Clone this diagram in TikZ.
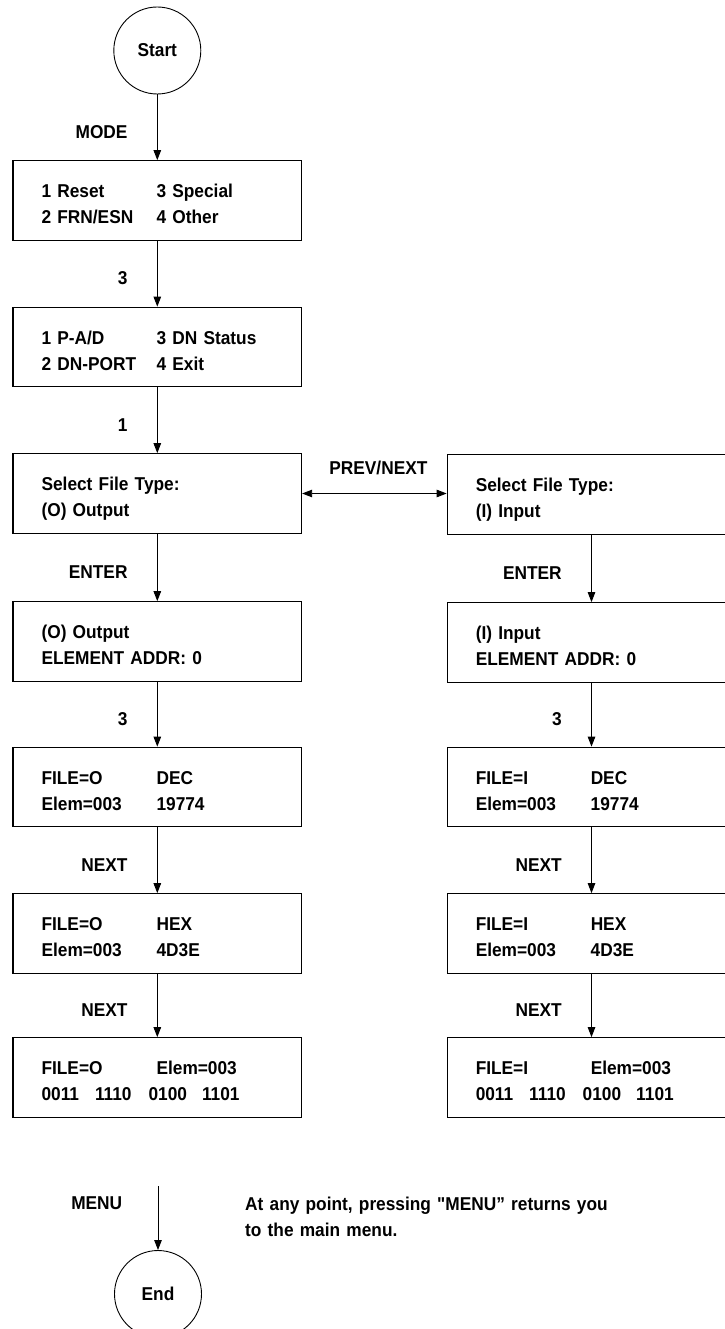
\documentclass[tikz,border=0pt]{standalone}
\usepackage{fontspec}
\setmainfont[FakeStretch=0.93,Ligatures=TeXOff]{Liberation Sans}
\usetikzlibrary{arrows.meta}
% two text lines of a screen box
\newcommand{\scrn}[2]{\rule{0pt}{25.4pt}#1\\#2\rule[-5pt]{0pt}{5pt}}
\newcommand{\col}[1]{\makebox[115pt][l]{#1}}
\newcommand{\nib}[1]{\makebox[53.5pt][l]{#1}}

\begin{document}
\begin{tikzpicture}[x=1pt,y=-1pt,font=\bfseries\fontsize{18.6}{26}\selectfont,
  screen/.style={draw,line width=1.2pt,rectangle,text width=231.5pt,inner xsep=28.5pt,minimum height=79.5pt,align=left},
  term/.style={draw,line width=.9pt,circle,minimum size=87pt,inner sep=0pt},
  flow/.style={line width=.9pt,-{Triangle[length=10pt,width=7.5pt]}},
  flowboth/.style={line width=.9pt,{Triangle[length=10pt,width=7.5pt]}-{Triangle[length=10pt,width=7.5pt]}},
  keylabel/.style={pos=.57,left=26pt}]
\useasboundingbox (0,0) rectangle (724,1329);

% output column
\node[term] (start) at (157.3,50.5) {Start};
\node[screen] (b1) at (157.3,200.5) {\scrn{\col{1 Reset}3 Special}{\col{2 FRN/ESN}4 Other}};
\node[screen] (b2) at (157.3,347) {\scrn{\col{1 P-A/D}3 DN Status}{\col{2 DN-PORT}4 Exit}};
\node[screen] (b3) at (157.3,493.5) {\scrn{Select File Type:}{(O) Output}};
\node[screen] (b4) at (157.3,641.5) {\scrn{(O) Output}{ELEMENT ADDR: 0}};
\node[screen] (b5) at (157.3,787) {\scrn{\col{FILE=O}DEC}{\col{Elem=003}19774}};
\node[screen] (b6) at (157.3,933.5) {\scrn{\col{FILE=O}HEX}{\col{Elem=003}4D3E}};
\node[screen] (b7) at (157.3,1077.5) {\scrn{\col{FILE=O}Elem=003}{\nib{0011}\nib{1110}\nib{0100}1101}};

% input column
\node[screen] (r3) at (591.5,494.5) {\scrn{Select File Type:}{(I) Input}};
\node[screen] (r4) at (591.5,642.5) {\scrn{(I) Input}{ELEMENT ADDR: 0}};
\node[screen] (r5) at (591.5,787) {\scrn{\col{FILE=I}DEC}{\col{Elem=003}19774}};
\node[screen] (r6) at (591.5,933.5) {\scrn{\col{FILE=I}HEX}{\col{Elem=003}4D3E}};
\node[screen] (r7) at (591.5,1077.5) {\scrn{\col{FILE=I}Elem=003}{\nib{0011}\nib{1110}\nib{0100}1101}};

\draw[flow] (start) -- node[keylabel]{MODE} (b1);
\draw[flow] (b1) -- node[keylabel]{3} (b2);
\draw[flow] (b2) -- node[keylabel]{1} (b3);
\draw[flow] (b3) -- node[keylabel]{ENTER} (b4);
\draw[flow] (b4) -- node[keylabel]{3} (b5);
\draw[flow] (b5) -- node[keylabel]{NEXT} (b6);
\draw[flow] (b6) -- node[keylabel]{NEXT} (b7);

\draw[flowboth] (b3.east) -- node[above=15pt,xshift=4pt]{PREV/NEXT} (b3.east -| r3.west);

\draw[flow] (r3) -- node[keylabel]{ENTER} (r4);
\draw[flow] (r4) -- node[keylabel]{3} (r5);
\draw[flow] (r5) -- node[keylabel]{NEXT} (r6);
\draw[flow] (r6) -- node[keylabel]{NEXT} (r7);

% menu exit
\coordinate (menu) at (158,1186);
\node[term] (end) at (158,1294) {End};
\draw[flow] (menu) -- node[keylabel,pos=.27,xshift=-6pt]{MENU} (end);
\node[anchor=north west,inner sep=0pt,text width=400pt,align=left] (note) at (245,1190.7)
  {\rule{0pt}{20pt}At any point, pressing "MENU” returns you\\to the main menu.};
\end{tikzpicture}
\end{document}
